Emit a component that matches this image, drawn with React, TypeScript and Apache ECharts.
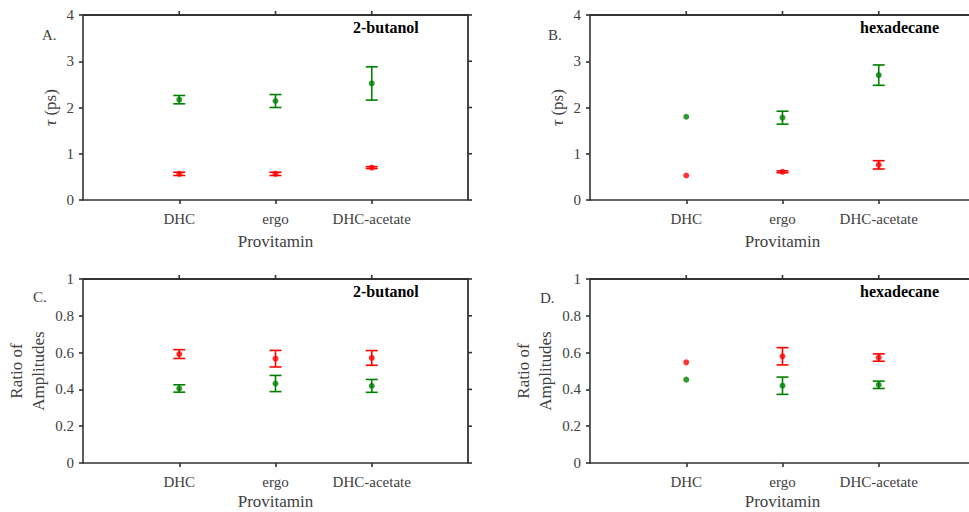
import React, { useEffect, useRef } from "react";
import * as echarts from "echarts";

// Provitamin categories, placed at x = 1, 2, 3 on a 0..4 axis
const provitamins = ["DHC", "ergo", "DHC-acetate"];
const categoryPositions = [1, 2, 3];
const xMax = 4;

// y tick values of the two kinds of panels
const tauTicks = [0, 1, 2, 3, 4];
const ampTicks = [0, 0.2, 0.4, 0.6, 0.8, 1];

// Time constants tau (ps) in 2-butanol
const tauButanolSlow = [2.17, 2.14, 2.52];
const tauButanolSlowErr = [0.09, 0.14, 0.36];
const tauButanolFast = [0.565, 0.565, 0.7];
const tauButanolFastErr = [0.035, 0.035, 0.02];

// Time constants tau (ps) in hexadecane
const tauHexSlow = [1.8, 1.78, 2.7];
const tauHexSlowErr = [0, 0.14, 0.22];
const tauHexFast = [0.53, 0.61, 0.76];
const tauHexFastErr = [0, 0.02, 0.09];

// Ratio of amplitudes in 2-butanol
const ampButanolFast = [0.592, 0.567, 0.571];
const ampButanolFastErr = [0.024, 0.045, 0.04];
const ampButanolSlow = [0.405, 0.432, 0.419];
const ampButanolSlowErr = [0.02, 0.044, 0.035];

// Ratio of amplitudes in hexadecane
const ampHexFast = [0.547, 0.58, 0.573];
const ampHexFastErr = [0, 0.047, 0.02];
const ampHexSlow = [0.453, 0.42, 0.425];
const ampHexSlowErr = [0, 0.047, 0.02];

const GREEN = "#008000";
const RED = "#ff0000";
const FRAME = "#333333";
const TEXT = "#404040";
const FONT = "Liberation Serif";
const TICK_LEN = 4;

type Panel = {
  left: number;
  top: number;
  width: number;
  height: number;
  ticks: number[];
  yName: string;
  yNameGap: number;
  xNameGap: number;
  slow: number[];
  slowErr: number[];
  fast: number[];
  fastErr: number[];
};

const panels: Panel[] = [
  { left: 83, top: 15, width: 385, height: 185, ticks: tauTicks, yName: "{i|τ} (ps)", yNameGap: 22, xNameGap: 33,
    slow: tauButanolSlow, slowErr: tauButanolSlowErr, fast: tauButanolFast, fastErr: tauButanolFastErr },
  { left: 590, top: 15, width: 385, height: 185, ticks: tauTicks, yName: "{i|τ} (ps)", yNameGap: 22, xNameGap: 33,
    slow: tauHexSlow, slowErr: tauHexSlowErr, fast: tauHexFast, fastErr: tauHexFastErr },
  { left: 83, top: 279, width: 385, height: 184, ticks: ampTicks, yName: "Ratio of\nAmplitudes", yNameGap: 34, xNameGap: 30,
    slow: ampButanolSlow, slowErr: ampButanolSlowErr, fast: ampButanolFast, fastErr: ampButanolFastErr },
  { left: 590, top: 279, width: 385, height: 184, ticks: ampTicks, yName: "Ratio of\nAmplitudes", yNameGap: 34, xNameGap: 30,
    slow: ampHexSlow, slowErr: ampHexSlowErr, fast: ampHexFast, fastErr: ampHexFastErr },
];

function errorBarSeries(idx: number, values: number[], errs: number[], color: string) {
  return {
    type: "custom",
    xAxisIndex: idx,
    yAxisIndex: idx,
    clip: false,
    z: 3,
    encode: { x: 0, y: [1, 2] },
    data: values.map((v, i) => [categoryPositions[i], v - errs[i], v + errs[i]]),
    renderItem: (_p: any, api: any) => {
      const x = api.value(0);
      const lo = api.value(1);
      const hi = api.value(2);
      if (hi - lo <= 0) return { type: "group", children: [] };
      const a = api.coord([x, hi]);
      const b = api.coord([x, lo]);
      const hw = 6;
      const style = () => ({ stroke: color, lineWidth: 1.6, fill: "none" });
      return {
        type: "group",
        children: [
          { type: "line", shape: { x1: a[0], y1: a[1], x2: b[0], y2: b[1] }, style: style() },
          { type: "line", shape: { x1: a[0] - hw, y1: a[1], x2: a[0] + hw, y2: a[1] }, style: style() },
          { type: "line", shape: { x1: b[0] - hw, y1: b[1], x2: b[0] + hw, y2: b[1] }, style: style() },
        ],
      };
    },
  };
}

function pointSeries(idx: number, values: number[], color: string) {
  return {
    type: "scatter",
    xAxisIndex: idx,
    yAxisIndex: idx,
    symbol: "circle",
    symbolSize: 6,
    itemStyle: { color },
    data: values.map((v, i) => [categoryPositions[i], v]),
    z: 5,
  };
}

// Outward ticks on the top and right edges of a panel, placed through the axes' scales
function edgeTickSeries(idx: number, ticks: number[]) {
  const yMax = ticks[ticks.length - 1];
  return {
    type: "custom",
    xAxisIndex: idx,
    yAxisIndex: idx,
    clip: false,
    z: 3,
    encode: { x: 0, y: 1 },
    data: [[xMax, yMax]],
    renderItem: (_p: any, api: any) => {
      const stroke = () => ({ stroke: FRAME, lineWidth: 1.6, fill: "none" });
      const children: any[] = [];
      categoryPositions.forEach((c) => {
        const p = api.coord([c, yMax]);
        children.push({ type: "line", shape: { x1: p[0], y1: p[1], x2: p[0], y2: p[1] - TICK_LEN }, style: stroke() });
      });
      ticks.forEach((t) => {
        const p = api.coord([xMax, t]);
        children.push({ type: "line", shape: { x1: p[0], y1: p[1], x2: p[0] + TICK_LEN, y2: p[1] }, style: stroke() });
      });
      return { type: "group", children };
    },
  };
}

// Top and right edges of each panel's box
function boxEdges(p: Panel) {
  const r = p.left + p.width;
  const b = p.top + p.height;
  return {
    type: "polyline",
    silent: true,
    z: 10,
    shape: { points: [[p.left, p.top], [r, p.top], [r, b]] },
    style: { stroke: FRAME, lineWidth: 1.8, fill: null },
  };
}

function buildOption() {
  const grid: any[] = [];
  const xAxis: any[] = [];
  const yAxis: any[] = [];
  const series: any[] = [];

  panels.forEach((p, idx) => {
    grid.push({
      left: p.left, top: p.top, width: p.width, height: p.height,
      containLabel: false, outerBoundsMode: "none",
    });
    xAxis.push({
      type: "value", gridIndex: idx, position: "bottom", min: 0, max: xMax, interval: 1,
      axisLine: { show: true, onZero: false, lineStyle: { color: FRAME, width: 1.6 } },
      axisTick: {
        show: true, inside: false, length: TICK_LEN, customValues: categoryPositions.slice(),
        lineStyle: { color: FRAME, width: 1.6 },
      },
      splitLine: { show: false },
      axisLabel: {
        customValues: categoryPositions.slice(), margin: 11, color: TEXT, fontFamily: FONT, fontSize: 15,
        formatter: (v: number) => provitamins[categoryPositions.indexOf(v)] ?? "",
      },
      name: "Provitamin", nameLocation: "middle", nameGap: p.xNameGap,
      nameTextStyle: { color: TEXT, fontFamily: FONT, fontSize: 17 },
    });
    yAxis.push({
      type: "value", gridIndex: idx, position: "left",
      min: p.ticks[0], max: p.ticks[p.ticks.length - 1], interval: p.ticks[1] - p.ticks[0],
      axisLine: { show: true, onZero: false, lineStyle: { color: FRAME, width: 1.6 } },
      axisTick: { show: true, inside: false, length: TICK_LEN, lineStyle: { color: FRAME, width: 1.6 } },
      splitLine: { show: false },
      axisLabel: { margin: 9, color: TEXT, fontFamily: FONT, fontSize: 15 },
      name: p.yName, nameLocation: "middle", nameGap: p.yNameGap, nameRotate: 90,
      nameTextStyle: {
        color: TEXT, fontFamily: FONT, fontSize: 17, lineHeight: 22,
        rich: { i: { fontStyle: "italic", fontFamily: FONT, fontSize: 17, color: TEXT } },
      },
    });

    series.push(edgeTickSeries(idx, p.ticks));
    series.push(errorBarSeries(idx, p.slow, p.slowErr, GREEN));
    series.push(errorBarSeries(idx, p.fast, p.fastErr, RED));
    series.push(pointSeries(idx, p.slow, GREEN));
    series.push(pointSeries(idx, p.fast, RED));
  });

  const panelLabel = (text: string, x: number, y: number) => ({
    type: "text", left: x, top: y,
    style: { text, fill: TEXT, fontFamily: FONT, fontSize: 15 },
  });
  const solventLabel = (text: string, x: number, y: number) => ({
    type: "text", left: x, top: y,
    style: { text, fill: "#000", fontFamily: FONT, fontSize: 16, fontWeight: "bold" },
  });

  return {
    animation: false,
    grid, xAxis, yAxis, series,
    graphic: [
      ...panels.map(boxEdges),
      panelLabel("A.", 42, 27),
      panelLabel("B.", 548, 27),
      panelLabel("C.", 33, 289),
      panelLabel("D.", 540, 290),
      solventLabel("2-butanol", 353, 19),
      solventLabel("hexadecane", 860, 19),
      solventLabel("2-butanol", 353, 283),
      solventLabel("hexadecane", 860, 283),
    ],
  };
}

export default function App() {
  const ref = useRef<HTMLDivElement>(null);
  useEffect(() => {
    if (!ref.current) return;
    const chart = echarts.init(ref.current, undefined, { renderer: "svg" });
    chart.setOption(buildOption() as any);
    return () => chart.dispose();
  }, []);
  return (
    <div
      ref={ref}
      style={{ position: "fixed", left: 0, top: 0, width: 969, height: 512, background: "#fff" }}
    />
  );
}
